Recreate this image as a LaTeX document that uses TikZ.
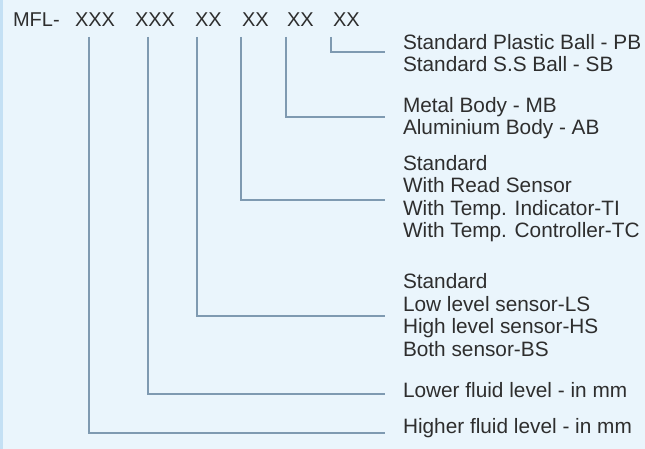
\documentclass[tikz,border=0pt]{standalone}
\usepackage{fontspec}
\setmainfont{Liberation Sans}
\definecolor{bgblue}{HTML}{EAF5FC}
\definecolor{edgeblue}{HTML}{C4E0F4}
\definecolor{linecol}{HTML}{7F9AB1}
\definecolor{txtcol}{HTML}{2E2E2E}
\begin{document}
\begin{tikzpicture}[x=1pt,y=-1pt,
  code/.style={anchor=base west,inner xsep=0pt,inner ysep=0pt,outer ysep=10pt,outer xsep=0pt,text=txtcol,font=\fontsize{20}{22.5}\selectfont},
  desc/.style={anchor=west,align=left,inner xsep=18pt,inner ysep=0pt,outer sep=0pt,text=txtcol,font=\fontsize{20.8}{22.5}\selectfont},
  leader/.style={draw=linecol,line width=1.7pt}]
\useasboundingbox (0,0) rectangle (645,449);
\fill[bgblue] (0,0) rectangle (645,449);
\fill[edgeblue] (0,0) rectangle (3,449);
% code header
\node[code] (m)  at (13,27)  {MFL-};
\node[code] (x1) at (75,27)  {XXX};
\node[code] (x2) at (135,27) {XXX};
\node[code] (x3) at (195,27) {XX};
\node[code] (x4) at (242,27) {XX};
\node[code] (x5) at (287,27) {XX};
\node[code] (x6) at (333,27) {XX};
% descriptions
\node[desc] (d6) at (385,53) {Standard Plastic Ball - PB\\Standard S.S Ball - SB};
\node[desc] (d5) at (385,118) {Metal Body - MB\\Aluminium Body - AB};
\node[desc] (d4) at (385,198.5) {Standard\\With Read Sensor\\With Temp. Indicator-TI\\With Temp. Controller-TC};
\node[desc] (d3) at (385,315) {Standard\\Low level sensor-LS\\High level sensor-HS\\Both sensor-BS};
\node[desc] (d2) at (385,390) {Lower fluid level - in mm};
\node[desc] (d1) at (385,428) {Higher fluid level - in mm};
% connectors
\draw[leader] ([xshift=-2pt]x6.south west) |- ([yshift=1pt]d6.west);
\draw[leader] ([xshift=-1pt]x5.south west) |- ([yshift=1pt]d5.west);
\draw[leader] ([xshift=-1pt]x4.south west) |- ([yshift=-1.5pt]d4.west);
\draw[leader] ([xshift=2pt]x3.south west) |- ([yshift=-1pt]d3.west);
\draw[leader] ([xshift=13pt]x2.south west) |- ([yshift=-4pt]d2.west);
\draw[leader] ([xshift=14pt]x1.south west) |- ([yshift=-5pt]d1.west);
\end{tikzpicture}
\end{document}
